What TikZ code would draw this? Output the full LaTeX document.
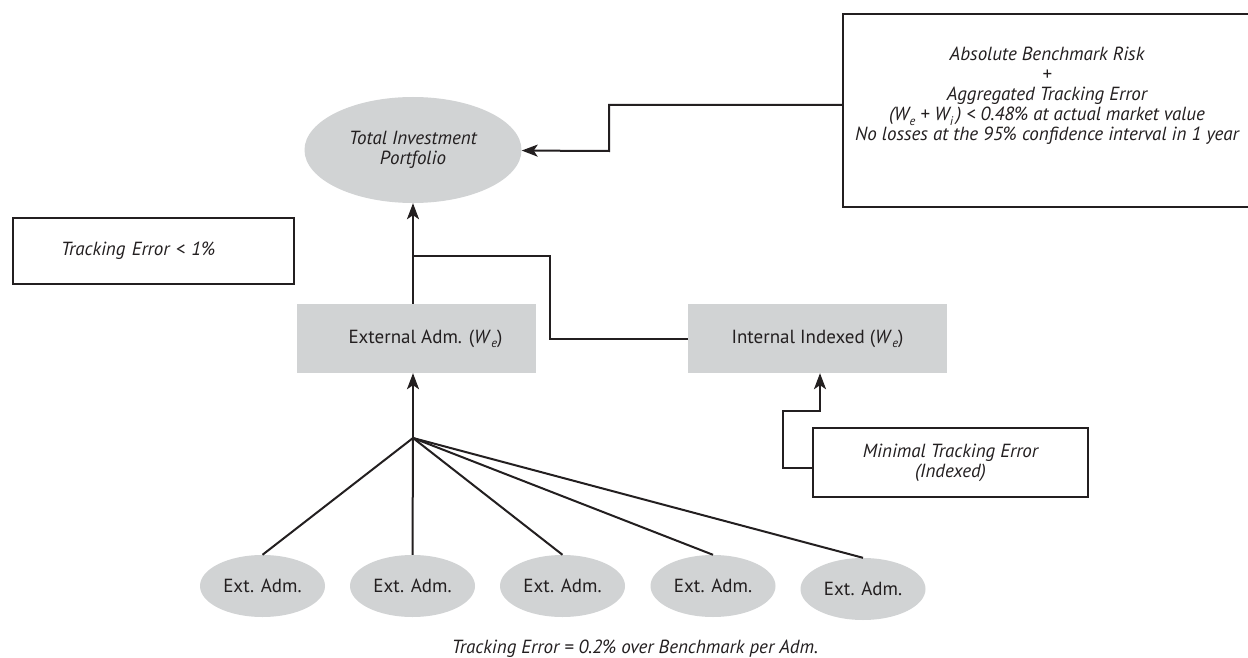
\documentclass[tikz,border=0pt]{standalone}
\usepackage{fontspec}
\setmainfont{PT Sans}
\usetikzlibrary{arrows.meta,shapes.geometric}
\definecolor{boxgray}{HTML}{D1D3D4}
\definecolor{ink}{HTML}{231F20}
% italic weight symbol with a lowered italic index
\newcommand\wsub[2]{\textit{#1}\kern0.02em\raisebox{-0.45ex}{\fontsize{12.5}{12.5}\selectfont\itshape #2}}

\begin{document}
\begin{tikzpicture}[x=1pt,y=-1pt,
  every node/.style={text=ink, font=\fontsize{19}{20}\selectfont},
  itx/.style={font=\fontsize{19}{20}\selectfont\itshape},
  note/.style={draw=ink, line width=2.2pt, itx, align=center, inner sep=0pt},
  graybox/.style={fill=boxgray, minimum height=69pt, inner sep=0pt, font=\fontsize{19}{20}\selectfont},
  oval/.style={ellipse, fill=boxgray, inner sep=0pt},
  link/.style={draw=ink, line width=2pt},
  arr/.style={link, -{Stealth[length=16pt,width=12pt,inset=4pt]}}
]
\useasboundingbox (0,0) rectangle (1248,658);
\fill[white] (0,0) rectangle (1248,658);

% risk budget statement (box runs off the right edge)
\node[note, minimum width=408pt, minimum height=193pt] (bench) at (1047,110.5) {};
\node[itx, align=center] (benchtext) at (1047,96)
  {Absolute Benchmark Risk\\+\\Aggregated Tracking Error\\(\wsub{W}{e} + \wsub{W}{i}\,) < 0.48\% at actual market value\\No losses at the 95\% confidence interval in 1 year};

% top of the hierarchy
\node[oval, minimum width=217pt, minimum height=106pt, align=center, itx] (tip) at (413,150) {Total Investment\\Portfolio};

% tracking error limit for external management
\node[note, anchor=west, minimum height=66pt, text width=281pt, align=left] (te1) at (12,251) {\hspace*{48pt}Tracking Error < 1\%};

% management blocks
\node[graybox, minimum width=239pt] (ext) at (416.5,338.5) {\hspace*{18pt}External Adm. (\wsub{W}{e})};
\node[graybox, minimum width=259pt] (int) at (817.5,338.5) {Internal Indexed (\wsub{W}{e})};
\node[note, minimum width=275pt, minimum height=69pt] (minte) at (950.5,462.5) {Minimal Tracking Error\\(Indexed)};

% external managers
\foreach \i/\x/\y in {1/262.5/586,2/412.5/586,3/562.5/586,4/713/586,5/863/589}
  \node[oval, minimum width=125pt, minimum height=62pt] (e\i) at (\x,\y) {Ext. Adm.};

\node[itx] (cap) at (635,649) {Tracking Error = 0.2\% over Benchmark per Adm.};

% routing points
\coordinate (J) at (413,438);
\coordinate (K) at (413,256);
\coordinate (M) at (550,256);
\coordinate (B1) at (609,105);
\coordinate (B2) at (609,151);
\coordinate (C1) at (783,468);
\coordinate (C3) at (820,411);

% connectors
\foreach \i in {1,...,5} \draw[link] (J) -- (e\i.north);
\draw[arr] (J) -- (J |- ext.south);
\draw[arr] (J |- ext.north) -- (tip.south);
\draw[link] (K) -- (M) |- (int.west);
\draw[arr] (bench.west |- B1) -| (B2) -- (tip);
\draw[arr] (minte.west |- C1) -- (C1) |- (C3) -- (C3 |- int.south);
\end{tikzpicture}
\end{document}
